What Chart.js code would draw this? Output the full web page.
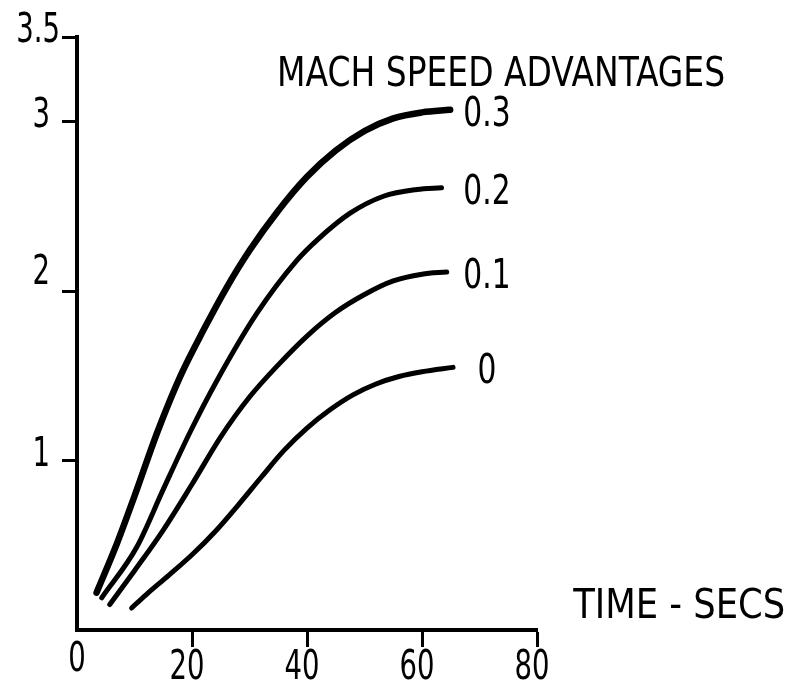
<!DOCTYPE html>
<html><head><meta charset="utf-8">
<script src="https://cdn.jsdelivr.net/npm/chart.js@4.4.1/dist/chart.umd.min.js"></script>
<style>html,body{margin:0;padding:0;background:#fff}#wrap{width:788px;height:681px;position:relative}</style>
</head><body><div id="wrap"><canvas id="c"></canvas></div>
<script>
// ---- data ----
const seriesNames = ['0.3', '0.2', '0.1', '0'];
const x03 = [3.4, 7, 10, 14, 18, 22, 26, 30, 35, 40, 45, 50, 55, 60, 64.9];
const y03 = [0.22, 0.515, 0.79, 1.17, 1.50, 1.77, 2.02, 2.24, 2.475, 2.675, 2.83, 2.945, 3.02, 3.055, 3.07];
const x02 = [4.3, 10.4, 15.0, 19.7, 24.3, 31.3, 38.2, 41.7, 47.5, 53.3, 59.1, 63.4];
const y02 = [0.19, 0.49, 0.83, 1.17, 1.47, 1.87, 2.18, 2.30, 2.46, 2.56, 2.60, 2.61];
const x01 = [5.7, 10, 15, 20, 25, 30, 35, 40, 45, 50, 55, 60, 64.3];
const y01 = [0.15, 0.35, 0.59, 0.86, 1.14, 1.375, 1.565, 1.735, 1.875, 1.98, 2.06, 2.10, 2.113];
const x00 = [9.5, 12, 16, 20, 24, 28, 32, 36, 40, 44, 48, 52, 56, 60, 65.4];
const y00 = [0.13, 0.208, 0.324, 0.444, 0.58, 0.736, 0.90, 1.06, 1.192, 1.30, 1.388, 1.452, 1.496, 1.524, 1.55];
const xTickValues = [0, 20, 40, 60, 80];
const yTickValues = [1, 2, 3, 3.5];
const legendTitle = 'MACH SPEED ADVANTAGES';
const xAxisTitle = 'TIME - SECS';

const FONT = '"Liberation Sans Narrow", "DejaVu Sans Condensed", "DejaVu Sans", sans-serif';

function pts(xs, ys) { return xs.map((x, i) => ({ x: x, y: ys[i] })); }
const seriesX = [x03, x02, x01, x00];
const seriesY = [y03, y02, y01, y00];
const widths = [6.5, 5, 5, 5];

const datasets = seriesNames.map((n, i) => ({
  label: n,
  data: pts(seriesX[i], seriesY[i]),
  borderColor: '#000',
  borderWidth: widths[i],
  borderCapStyle: 'round',
  borderJoinStyle: 'round',
  pointRadius: 0,
  fill: false,
  cubicInterpolationMode: 'monotone'
}));

// draw text compressed horizontally by factor k
function drawText(ctx, text, x, y, align, k) {
  const w = ctx.measureText(text).width * k;
  let left = x;
  if (align === 'center') left = x - w / 2;
  else if (align === 'right') left = x - w;
  ctx.save();
  ctx.translate(left, y);
  ctx.scale(k, 1);
  ctx.textAlign = 'left';
  ctx.fillText(text, 0, 0);
  ctx.restore();
}

const textPlugin = {
  id: 'texts',
  afterDraw(chart) {
    const ctx = chart.ctx, xs = chart.scales.x, ys = chart.scales.y;
    ctx.save();
    ctx.fillStyle = '#000';
    ctx.textBaseline = 'alphabetic';
    ctx.font = '41px ' + FONT;
    const kDigit = 17.5 / ctx.measureText('0').width;
    // titles
    let k = 448 / ctx.measureText(legendTitle).width;
    drawText(ctx, legendTitle, xs.getPixelForValue(34.8), ys.getPixelForValue(3.21), 'left', k);
    k = 212 / ctx.measureText(xAxisTitle).width;
    drawText(ctx, xAxisTitle, xs.getPixelForValue(86.3), ys.getPixelForValue(0.07), 'left', k);
    // series labels
    chart.data.datasets.forEach((ds) => {
      const last = ds.data[ds.data.length - 1];
      drawText(ctx, ds.label, xs.getPixelForValue(71.3), ys.getPixelForValue(last.y) + 16, 'center', kDigit * 1.08);
    });
    // x tick labels
    xTickValues.forEach(v => {
      drawText(ctx, String(v), xs.getPixelForValue(v) - (v === 0 ? 0 : 5), chart.height - 2 - (v === 0 ? 8 : 0), 'center', kDigit);
    });
    // y tick labels
    yTickValues.forEach(v => {
      const yp = ys.getPixelForValue(v);
      drawText(ctx, String(v), ys.left + 50 - (v === 3.5 ? -10 : 0), yp + 5 - (v === 2 ? 12 : 0), 'right', kDigit);
    });
    ctx.restore();
  }
};

new Chart(document.getElementById('c'), {
  type: 'line',
  data: { datasets: datasets },
  plugins: [textPlugin],
  options: {
    responsive: true,
    maintainAspectRatio: false,
    animation: false,
    events: [],
    layout: { padding: { top: 37, right: 251, left: 0, bottom: 0 } },
    plugins: { legend: { display: false }, tooltip: { enabled: false } },
    scales: {
      x: {
        type: 'linear', min: 0, max: 80,
        afterBuildTicks: s => { s.ticks = xTickValues.map(v => ({ value: v })); },
        afterFit: s => { s.height = 51; },
        border: { display: true, color: '#000', width: 4 },
        grid: { display: true, drawOnChartArea: false, tickLength: 17, tickWidth: 3,
                color: c => (c.tick && c.tick.value === 0) ? 'rgba(0,0,0,0)' : '#000' },
        ticks: { display: false }
      },
      y: {
        type: 'linear', min: 0, max: 3.5,
        afterBuildTicks: s => { s.ticks = yTickValues.map(v => ({ value: v })); },
        afterFit: s => { s.width = 77; },
        border: { display: true, color: '#000', width: 4 },
        grid: { display: true, drawOnChartArea: false, tickLength: 15, tickWidth: 3, color: '#000' },
        ticks: { display: false }
      }
    }
  }
});
</script>
</body></html>
